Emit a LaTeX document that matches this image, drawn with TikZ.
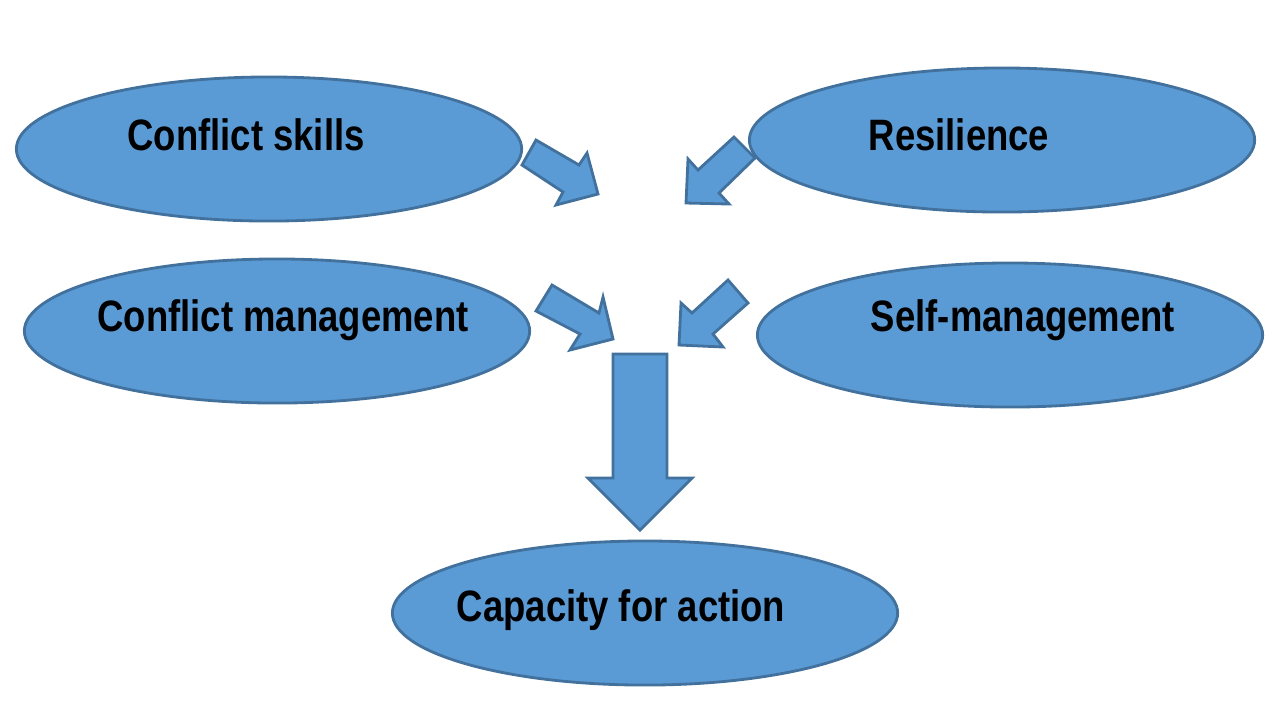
\documentclass[tikz,border=0pt]{standalone}
\usepackage{fontspec}
\setmainfont{Liberation Sans}[FakeStretch=0.83]
\usetikzlibrary{shapes.geometric}
\definecolor{boxfill}{HTML}{5B9BD5}
\definecolor{boxline}{HTML}{41719C}
\tikzset{
  oval/.style={ellipse, draw=boxline, fill=boxfill, line width=0.8pt,
    minimum width=5.05cm, minimum height=1.44cm, inner sep=0pt},
  lbl/.style={font=\bfseries\fontsize{12.5}{14}\selectfont, text=black, inner sep=0pt},
  blockarrow/.style={draw=boxline, fill=boxfill, line width=0.8pt, line join=miter}
}
\begin{document}
\begin{tikzpicture}[x=0.01cm, y=-0.01cm]
\useasboundingbox (0,0) rectangle (1280,720);
% ellipses
\node[oval] (skills) at (269,149) {};
\node[oval] (resil) at (1002,140) {};
\node[oval] (cmgmt) at (277,331) {};
\node[oval] (smgmt) at (1010,335) {};
\node[oval] (cap) at (645,613) {};
% labels
\node[lbl] (tskills) at (246,135) {Conflict skills};
\node[lbl] (tresil) at (959,135) {Resilience};
\node[lbl] (tcmgmt) at (283,320) {Conflict management};
\node[lbl] (tsmgmt) at (1023,320) {Self-management};
\node[lbl] (tcap) at (621,610) {Capacity for action};
% block arrows
\draw[blockarrow] (536,140) -- (579,165) -- (587,153) -- (598,194) -- (556,205) -- (563,192) -- (522,165) -- cycle;
\draw[blockarrow] (734,137) -- (698,170) -- (688,159) -- (686,203) -- (729,204) -- (719,193) -- (755,158) -- cycle;
\draw[blockarrow] (552,285) -- (599,313) -- (603,297) -- (613,339) -- (570,350) -- (580,334) -- (536,311) -- cycle;
\draw[blockarrow] (728,280) -- (692,313) -- (681,303) -- (679,345) -- (723,347) -- (713,334) -- (748,303) -- cycle;
\draw[blockarrow] (613,354) -- (667,354) -- (667,478) -- (692,478) -- (640,530) -- (588,478) -- (613,478) -- cycle;
\end{tikzpicture}
\end{document}
